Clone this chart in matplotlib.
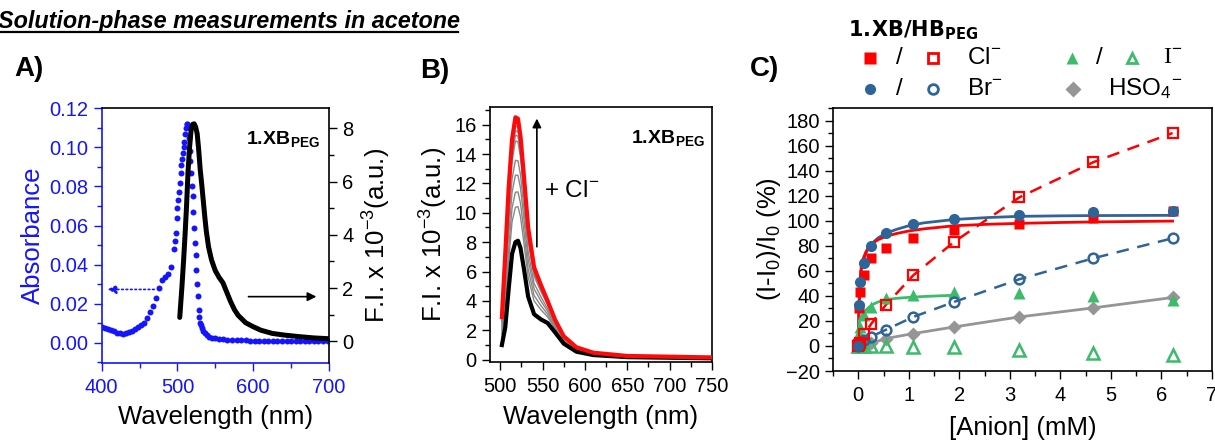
import matplotlib
matplotlib.use('Agg')
import matplotlib.pyplot as plt
from matplotlib.lines import Line2D
from matplotlib.ticker import MultipleLocator, FormatStrFormatter

plt.rcParams['font.family'] = ['Liberation Sans', 'DejaVu Sans']
plt.rcParams['mathtext.fontset'] = 'custom'
plt.rcParams['mathtext.rm'] = 'Liberation Sans'
plt.rcParams['mathtext.it'] = 'Liberation Sans:italic'
plt.rcParams['mathtext.bf'] = 'Liberation Sans:bold'
plt.rcParams['mathtext.sf'] = 'Liberation Sans'

# ---------------- data: panel A ----------------
abs_wl = [400, 404, 408, 412, 416, 420, 424, 428, 432, 436, 440, 444, 448, 452, 456,
          460, 464, 468, 472, 476, 480, 484, 488, 492, 495,
          497, 498, 499, 500, 501, 502, 503, 504, 505, 506, 507, 508, 509, 510,
          511, 512, 513, 514, 515, 516, 517, 518, 519, 520, 521, 522, 523, 524,
          525, 526, 527, 528, 529, 530, 531, 532,
          534, 536, 539, 542, 546, 550, 555, 560, 566, 572, 578, 584, 590, 596,
          602, 608, 614, 620, 626, 632, 638, 644, 650, 656, 662, 668, 674, 680,
          686, 692, 698]
abs_val = [0.0080, 0.0075, 0.0072, 0.0066, 0.0058, 0.0052, 0.0048, 0.0047, 0.0048,
           0.0053, 0.0062, 0.0072, 0.0082, 0.0090, 0.0102, 0.0125, 0.0155, 0.0190,
           0.0230, 0.0280, 0.0320, 0.0335, 0.0350, 0.0390, 0.0480,
           0.052, 0.056, 0.064, 0.069, 0.073, 0.077, 0.082, 0.087, 0.091, 0.094,
           0.097, 0.100, 0.103, 0.107, 0.110, 0.112, 0.112, 0.111, 0.105, 0.098,
           0.093, 0.087, 0.080, 0.075, 0.067, 0.059, 0.051, 0.045, 0.037, 0.030,
           0.024, 0.017, 0.013, 0.010, 0.009, 0.0075,
           0.0060, 0.0048, 0.0038, 0.0031, 0.0026, 0.0023, 0.0020, 0.0018, 0.0016,
           0.0014, 0.0013, 0.0012, 0.0012, 0.0011, 0.0011, 0.0011, 0.0010, 0.0010,
           0.0010, 0.0010, 0.0010, 0.0009, 0.0009, 0.0009, 0.0009, 0.0009, 0.0009,
           0.0009, 0.0009, 0.0009, 0.0009]

fl_wl = [503, 506, 508, 510, 512, 514, 516, 518, 520, 522, 524, 526, 528, 530, 532,
         534, 536, 538, 541, 545, 550, 555, 560, 565, 570, 575, 580, 590, 600, 610,
         625, 640, 660, 680, 700]
fl_val = [0.9, 2.1, 3.0, 4.0, 5.1, 6.4, 7.3, 7.95, 8.15, 8.17, 8.05, 7.8, 7.2, 6.45,
          5.9, 5.3, 4.7, 4.15, 3.55, 3.05, 2.65, 2.4, 2.2, 1.85, 1.5, 1.2, 0.98, 0.7,
          0.55, 0.42, 0.3, 0.24, 0.18, 0.13, 0.1]

# ---------------- data: panel B (titration spectra) ----------------
titr_wl = [502, 506, 510, 514, 518, 521, 524, 528, 533, 540, 548, 556, 565, 575,
           590, 610, 650, 750]
titr_start = [1.0, 2.2, 4.8, 7.2, 8.0, 8.1, 7.6, 6.2, 4.3, 3.1, 2.75, 2.5, 1.85,
              1.1, 0.55, 0.32, 0.18, 0.10]
titr_mid = [
    [1.53, 3.60, 6.73, 9.38, 10.38, 10.42, 9.73, 7.96, 5.62, 4.00, 3.41, 2.92, 2.09, 1.24, 0.63, 0.36, 0.20, 0.12],
    [1.76, 4.20, 7.56, 10.32, 11.40, 11.42, 10.64, 8.72, 6.18, 4.38, 3.69, 3.10, 2.19, 1.30, 0.67, 0.38, 0.21, 0.12],
    [2.02, 4.88, 8.50, 11.38, 12.56, 12.55, 11.67, 9.58, 6.82, 4.82, 4.01, 3.30, 2.31, 1.37, 0.71, 0.41, 0.22, 0.13],
    [2.24, 5.48, 9.32, 12.31, 13.57, 13.54, 12.58, 10.33, 7.38, 5.20, 4.29, 3.48, 2.41, 1.43, 0.75, 0.42, 0.23, 0.14],
    [2.54, 6.25, 10.39, 13.52, 14.89, 14.82, 13.76, 11.30, 8.11, 5.69, 4.65, 3.72, 2.54, 1.51, 0.79, 0.45, 0.24, 0.15],
    [2.63, 6.49, 10.71, 13.88, 15.28, 15.21, 14.11, 11.60, 8.33, 5.84, 4.76, 3.79, 2.58, 1.53, 0.81, 0.46, 0.25, 0.15],
    [2.70, 6.67, 10.96, 14.17, 15.59, 15.51, 14.39, 11.83, 8.50, 5.96, 4.85, 3.84, 2.61, 1.55, 0.82, 0.46, 0.25, 0.15],
    [2.77, 6.85, 11.22, 14.45, 15.90, 15.82, 14.67, 12.06, 8.67, 6.08, 4.94, 3.90, 2.64, 1.57, 0.83, 0.47, 0.25, 0.16],
]
titr_end = [2.9, 7.2, 11.7, 15.0, 16.5, 16.4, 15.2, 12.5, 9.0, 6.3, 5.1, 4.0, 2.7,
            1.6, 0.85, 0.48, 0.26, 0.16]

# ---------------- data: panel C (binding isotherms) ----------------
conc = [0, 0.01, 0.03, 0.12, 0.26, 0.54, 1.09, 1.9, 3.19, 4.65, 6.22]
cl_xb = [0, 30, 43, 57, 70, 78.5, 86.5, 92.5, 97, 102, 108]
br_xb = [0, 32.5, 50.7, 66, 80, 90, 97.3, 101.3, 104.5, 106.7, 108]
i_xb = [0, 10, 15, 24.5, 31, 38, 40.5, 43, 42.4, 39.7, 36.5]
cl_hb = [0, 0.5, 2, 9.3, 17.9, 32.5, 56.5, 83.2, 118.7, 146.7, 170]
br_hb = [0, 1, 2, 4.5, 7.5, 12.8, 23.2, 35.2, 53.3, 70, 86]
i_hb = [0, 0, 0, 0, 0, 0, -0.5, -1, -3, -5.5, -7.5]
hso4 = [0, 0, 0.2, 1, 2, 5.9, 9.9, 15.2, 23.2, 30.4, 38.7]

fit_x = [0, 0.01, 0.03, 0.06, 0.1, 0.15, 0.2, 0.3, 0.4, 0.55, 0.75, 1.0, 1.3, 1.9,
         2.6, 3.2, 4.0, 4.65, 5.5, 6.22]
cl_fit = [0, 20, 48, 64, 70, 75, 78.5, 82.5, 85, 87.5, 89.7, 91.8, 93.5, 96, 97.2,
          97.9, 98.6, 99, 99.4, 99.7]
br_fit = [0, 28, 50, 61, 67.5, 74, 78, 83, 86.5, 90, 93, 96, 98.3, 101, 102.6,
          103.5, 103.9, 104.1, 104.2, 104.3]
fit_i_x = [0, 0.02, 0.05, 0.1, 0.15, 0.2, 0.3, 0.4, 0.55, 0.75, 1.0, 1.3, 1.9]
i_fit = [0, 20, 23, 26, 28.5, 30.5, 33.5, 35.2, 37, 38, 38.8, 39.5, 40.5]

BLUE = '#1414ff'
C_RED = '#ff0000'
C_BLUE = '#2f6499'
C_GREEN = '#3cbb6a'
C_GRAY = '#959595'
TICK_FS = 14.5
LABEL_FS = 18.5
TAG = r'$\mathbf{1.\!XB}_{\mathbf{PEG}}$'

fig = plt.figure(figsize=(12.15, 4.47), dpi=100)

# title
fig.text(-0.002, 0.953, 'Solution-phase measurements in acetone', fontsize=16.8,
         fontweight='bold', fontstyle='italic', ha='left', va='center')
fig.add_artist(Line2D([0, 0.377], [0.928, 0.928], color='k', lw=1.6,
                      transform=fig.transFigure))

# panel letters
fig.text(0.012, 0.845, 'A)', fontsize=20, fontweight='bold', va='center')
fig.text(0.346, 0.842, 'B)', fontsize=20, fontweight='bold', va='center')
fig.text(0.617, 0.845, 'C)', fontsize=20, fontweight='bold', va='center')

# ---------------- panel A ----------------
ax_a = fig.add_axes([0.0837, 0.1886, 0.1871, 0.5690])
ax_a.plot(abs_wl, abs_val, 'o', color=BLUE, ms=4.3, mec='none')
ax_a.set_xlim(400, 700)
ax_a.set_ylim(-0.0102, 0.12)
ax_a.xaxis.set_major_locator(MultipleLocator(100))
ax_a.xaxis.set_minor_locator(MultipleLocator(50))
ax_a.yaxis.set_major_locator(MultipleLocator(0.02))
ax_a.yaxis.set_minor_locator(MultipleLocator(0.01))
ax_a.yaxis.set_major_formatter(FormatStrFormatter('%.2f'))
ax_a.tick_params(which='both', direction='out', colors=BLUE, labelsize=TICK_FS, width=1)
ax_a.tick_params(which='major', length=6)
ax_a.tick_params(which='minor', length=3.5)
ax_a.tick_params(axis='x', pad=5)
ax_a.set_ylabel('Absorbance', color=BLUE, fontsize=LABEL_FS, labelpad=3)
ax_a.set_xlabel('Wavelength (nm)', fontsize=LABEL_FS, labelpad=6)
for s in ['left', 'bottom']:
    ax_a.spines[s].set_color(BLUE)
    ax_a.spines[s].set_linewidth(1.2)
ax_a.spines['right'].set_visible(False)
ax_a.spines['top'].set_linewidth(1.2)

ax_a.annotate('', xy=(404, 0.0273), xytext=(473, 0.0273),
              arrowprops=dict(arrowstyle='-|>', color=BLUE, lw=1.2, ls=':',
                              mutation_scale=13))

ax_a2 = ax_a.twinx()
ax_a2.plot(fl_wl, fl_val, color='k', lw=3.6, solid_capstyle='round')
ax_a2.set_ylim(-0.8, 8.75)
ax_a2.yaxis.set_major_locator(MultipleLocator(2))
ax_a2.yaxis.set_minor_locator(MultipleLocator(1))
ax_a2.tick_params(axis='y', which='both', direction='out', labelsize=TICK_FS, width=1)
ax_a2.tick_params(axis='y', which='major', length=6)
ax_a2.tick_params(axis='y', which='minor', length=3.5)
ax_a2.tick_params(axis='x', which='both', bottom=False, top=True, direction='in',
                  labelbottom=False, labeltop=False, length=4, width=1)
for s in ['left', 'bottom', 'top']:
    ax_a2.spines[s].set_visible(False)
ax_a2.spines['right'].set_linewidth(1.2)
ax_a2.set_ylabel('F.I. x 10$^{-3}$(a.u.)', fontsize=LABEL_FS, labelpad=5)
ax_a2.annotate('', xy=(687, 1.68), xytext=(590, 1.68),
               arrowprops=dict(arrowstyle='-|>', color='k', lw=1.2,
                               mutation_scale=13))
ax_a2.text(0.96, 0.88, TAG, transform=ax_a2.transAxes,
           ha='right', va='center', fontsize=14)

# ---------------- panel B ----------------
ax_b = fig.add_axes([0.4033, 0.1902, 0.1827, 0.5705])
ax_b.plot(titr_wl, titr_start, color='k', lw=3.0, zorder=4)
for row in titr_mid:
    ax_b.plot(titr_wl, row, color='#888888', lw=1.0, zorder=3)
ax_b.plot(titr_wl, titr_end, color='#ff0a0a', lw=3.0, zorder=5)
ax_b.set_xlim(488, 750)
ax_b.set_ylim(-0.15, 17.2)
ax_b.xaxis.set_major_locator(MultipleLocator(50))
ax_b.xaxis.set_minor_locator(MultipleLocator(25))
ax_b.yaxis.set_major_locator(MultipleLocator(2))
ax_b.yaxis.set_minor_locator(MultipleLocator(1))
ax_b.tick_params(which='both', direction='out', labelsize=TICK_FS, width=1)
ax_b.tick_params(which='major', length=6)
ax_b.tick_params(which='minor', length=3.5)
ax_b.tick_params(axis='x', pad=5)
for s in ax_b.spines.values():
    s.set_linewidth(1.2)
ax_b.set_xlabel('Wavelength (nm)', fontsize=LABEL_FS, labelpad=6)
ax_b.set_ylabel('F.I. x 10$^{-3}$(a.u.)', fontsize=LABEL_FS, labelpad=3)
ax_b.annotate('', xy=(543.3, 16.6), xytext=(543.3, 7.5),
              arrowprops=dict(arrowstyle='-|>', color='k', lw=1.2,
                              mutation_scale=13))
ax_b.text(552, 11.5, '+ Cl$^{-}$', fontsize=17.5, va='center', ha='left')
ax_b.text(0.968, 0.88, TAG, transform=ax_b.transAxes,
          ha='right', va='center', fontsize=14)

# ---------------- panel C ----------------
ax_c = fig.add_axes([0.6856, 0.1700, 0.3119, 0.5884])
ax_c.plot(fit_x, br_fit, color=C_BLUE, lw=2.0, zorder=3)
ax_c.plot(fit_x, cl_fit, color=C_RED, lw=2.0, zorder=3)
ax_c.plot(fit_i_x, i_fit, color=C_GREEN, lw=2.0, zorder=3)
ax_c.plot(conc, cl_hb, color=C_RED, lw=1.8, ls=(0, (5, 3.5)), zorder=2)
ax_c.plot(conc, br_hb, color=C_BLUE, lw=1.8, ls=(0, (5, 3.5)), zorder=2)
ax_c.plot(conc, hso4, color=C_GRAY, lw=2.0, zorder=2)

ax_c.plot(conc, hso4, 'D', color=C_GRAY, ms=7, mec='none', zorder=4)
ax_c.plot(conc, i_hb, '^', mfc='none', mec=C_GREEN, mew=1.8, ms=8.5, zorder=4)
ax_c.plot(conc, i_xb, '^', color=C_GREEN, ms=8.5, mec='none', zorder=4)
ax_c.plot(conc, br_hb, 'o', mfc='none', mec=C_BLUE, mew=1.8, ms=7, zorder=4)
ax_c.plot(conc, cl_hb, 's', mfc='none', mec=C_RED, mew=1.6, ms=6.5, zorder=4)
ax_c.plot(conc, cl_xb, 's', color=C_RED, ms=7, mec='none', zorder=5)
ax_c.plot(conc, br_xb, 'o', color=C_BLUE, ms=8, mec='none', zorder=6)

ax_c.set_xlim(-0.5, 7)
ax_c.set_ylim(-20, 190)
ax_c.xaxis.set_major_locator(MultipleLocator(1))
ax_c.xaxis.set_minor_locator(MultipleLocator(0.5))
ax_c.yaxis.set_major_locator(MultipleLocator(20))
ax_c.yaxis.set_minor_locator(MultipleLocator(10))
ax_c.tick_params(which='both', direction='out', labelsize=TICK_FS, width=1)
ax_c.tick_params(which='major', length=6)
ax_c.tick_params(which='minor', length=3.5)
ax_c.tick_params(axis='x', pad=5)
for s in ax_c.spines.values():
    s.set_linewidth(1.2)
ax_c.set_xlabel('[Anion] (mM)', fontsize=LABEL_FS, labelpad=8)
ax_c.set_ylabel('(I-I$_0$)/I$_0$ (%)', fontsize=LABEL_FS, labelpad=2)

# legend of panel C, laid out by hand
fig.text(0.698, 0.933, r'$\mathbf{1.\!XB/HB}_{\mathbf{PEG}}$', fontsize=15,
         ha='left', va='center', math_fontfamily='dejavusans')
row1, row2 = 0.870, 0.801
legend_rows = [
    (0.716, row1, 's', C_RED, True), (0.768, row1, 's', C_RED, False),
    (0.716, row2, 'o', C_BLUE, True), (0.768, row2, 'o', C_BLUE, False),
    (0.882, row1, '^', C_GREEN, True), (0.932, row1, '^', C_GREEN, False),
    (0.883, row2, 'D', C_GRAY, True),
]
for lx, ly, mk, col, filled in legend_rows:
    if filled:
        fig.add_artist(Line2D([lx], [ly], marker=mk, color=col, mec='none', ms=8,
                              transform=fig.transFigure))
    else:
        fig.add_artist(Line2D([lx], [ly], marker=mk, mfc='none', mec=col, mew=2.0,
                              ms=7, transform=fig.transFigure))
for lx, ly in [(0.740, row1), (0.740, row2), (0.905, row1)]:
    fig.text(lx, ly, '/', fontsize=17.5, ha='center', va='center')
fig.text(0.796, row1, 'Cl$^{-}$', fontsize=17.5, ha='left', va='center')
fig.text(0.796, row2, 'Br$^{-}$', fontsize=17.5, ha='left', va='center')
fig.text(0.957, row1, 'I$^{-}$', fontsize=17.5, ha='left', va='center',
         family='Liberation Serif')
fig.text(0.912, row2, 'HSO$_4$$^{-}$', fontsize=17.5, ha='left', va='center')

fig.savefig('out.png', dpi=100)
